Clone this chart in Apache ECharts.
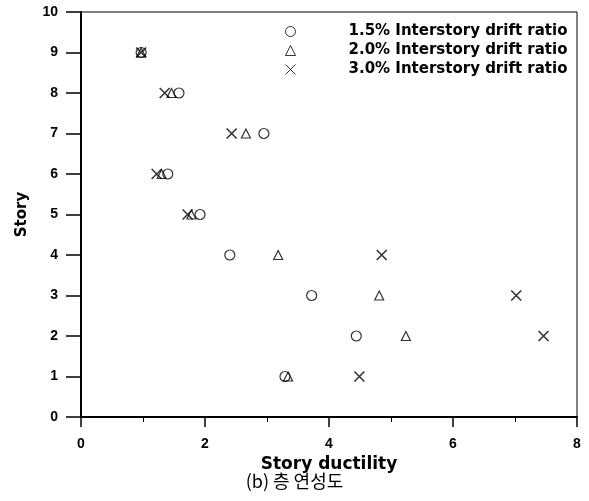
<!DOCTYPE html>
<html><head><meta charset="utf-8">
<script src="https://cdn.jsdelivr.net/npm/echarts@6/dist/echarts.min.js"></script>
<style>html,body{margin:0;padding:0;background:#fff}#c{width:589px;height:501px}</style>
</head><body><div id="c"></div>
<script>
const stories = [1, 2, 3, 4, 5, 6, 7, 8, 9];
const drift15 = [3.29, 4.44, 3.72, 2.40, 1.92, 1.40, 2.95, 1.58, 0.97];
const drift20 = [3.34, 5.24, 4.81, 3.18, 1.78, 1.30, 2.66, 1.46, 0.97];
const drift30 = [4.49, 7.46, 7.02, 4.85, 1.72, 1.22, 2.43, 1.35, 0.97];
const seriesNames = ['1.5% Interstory drift ratio', '2.0% Interstory drift ratio', '3.0% Interstory drift ratio'];
const xTicks = [0, 2, 4, 6, 8];
const yTicks = [0, 1, 2, 3, 4, 5, 6, 7, 8, 9, 10];

const pts = arr => arr.map((v, i) => [v, stories[i]]);
const numFont = '"Liberation Sans", Arial, sans-serif';
const txtFont = '"DejaVu Sans", sans-serif';
const chart = echarts.init(document.getElementById('c'), null, {renderer: 'canvas'});
const baseStyle = {color: 'rgba(255,255,255,0)', borderColor: '#000', borderWidth: 1.2};
chart.setOption({
  animation: false,
  backgroundColor: '#fff',
  grid: {left: 81, right: 12, top: 12, bottom: 84, show: true, borderColor: '#000', borderWidth: 1, backgroundColor: 'transparent'},
  legend: {
    orient: 'vertical', left: 285, top: 23, padding: 0, itemGap: 2, itemWidth: 10, itemHeight: 10,
    itemStyle: {borderWidth: 1},
    textStyle: {fontFamily: txtFont, fontWeight: 'bold', fontSize: 15, lineHeight: 17, color: '#000', padding: [0, 0, 0, 48]},
    data: seriesNames
  },
  xAxis: {
    type: 'value', min: xTicks[0], max: xTicks[xTicks.length - 1], interval: 2,
    axisLine: {lineStyle: {color: '#000', width: 2}},
    axisTick: {inside: false, length: 10, lineStyle: {color: '#000', width: 1.5}},
    minorTick: {show: true, splitNumber: 2, length: 5, lineStyle: {color: '#000', width: 1}},
    splitLine: {show: false},
    axisLabel: {fontFamily: numFont, fontWeight: 'bold', fontSize: 14, color: '#000', margin: 20},
    name: 'Story ductility', nameLocation: 'middle', nameGap: 37,
    nameTextStyle: {fontFamily: txtFont, fontWeight: 'bold', fontSize: 17, color: '#000'}
  },
  yAxis: {
    type: 'value', min: yTicks[0], max: yTicks[yTicks.length - 1], interval: 1,
    axisLine: {lineStyle: {color: '#000', width: 2}},
    axisTick: {inside: false, length: 15, lineStyle: {color: '#000', width: 1.5}},
    splitLine: {show: false},
    axisLabel: {fontFamily: numFont, fontWeight: 'bold', fontSize: 14, color: '#000', margin: 23},
    name: 'Story', nameLocation: 'middle', nameGap: 51, nameRotate: 90,
    nameTextStyle: {fontFamily: txtFont, fontWeight: 'bold', fontSize: 15, color: '#000'}
  },
  graphic: [{
    type: 'text', left: 'center', top: 472,
    style: {text: '(b) 층 연성도', font: '18px "Noto Sans CJK KR", sans-serif', fill: '#000'}
  }],
  series: [
    {name: seriesNames[0], type: 'scatter', symbol: 'circle', symbolSize: 10, data: pts(drift15), itemStyle: baseStyle},
    {name: seriesNames[1], type: 'scatter', symbol: 'triangle', symbolSize: 9, data: pts(drift20), itemStyle: baseStyle},
    {name: seriesNames[2], type: 'scatter', symbol: 'path://M0,0L10,10M10,0L0,10', symbolSize: 10, data: pts(drift30),
     itemStyle: {color: 'rgba(255,255,255,0)', borderColor: '#000', borderWidth: 1.6}}
  ]
});
</script></body></html>
